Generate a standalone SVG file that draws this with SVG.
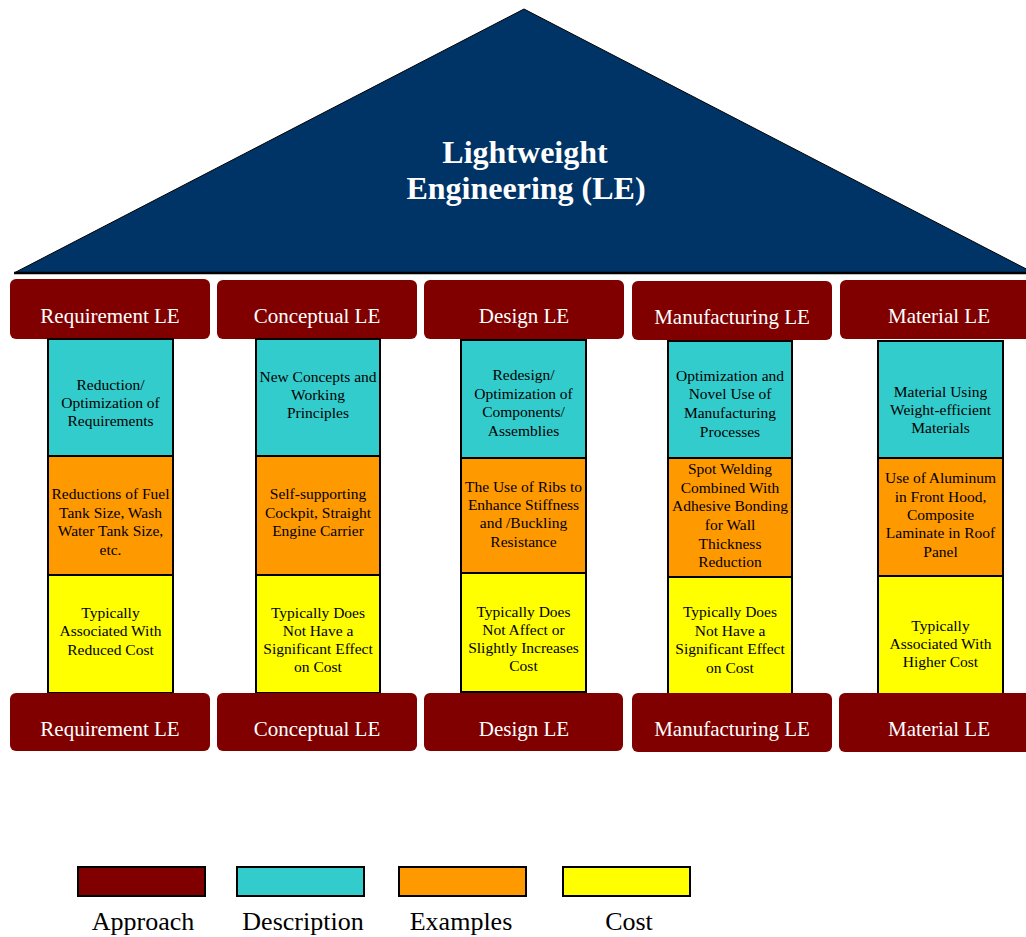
<svg xmlns="http://www.w3.org/2000/svg" width="1026" height="937" viewBox="0 0 1026 937">
<style>
.hdr{fill:#800000;}
.hdrt{font-family:"Liberation Serif","Times New Roman",serif;font-size:21px;fill:#ffffff;text-anchor:middle;}
.box{stroke:#000;stroke-width:2;}
.d{fill:#33CCCC;}
.e{fill:#FF9900;}
.c{fill:#FFFF00;}
.bt{font-family:"Liberation Serif","Times New Roman",serif;font-size:15.5px;fill:#000;text-anchor:middle;}
.lg{font-family:"Liberation Serif","Times New Roman",serif;font-size:26px;fill:#000;text-anchor:middle;}
.title{font-family:"Liberation Serif","Times New Roman",serif;font-size:32px;font-weight:bold;fill:#ffffff;text-anchor:middle;}
</style>
<rect width="1026" height="937" fill="#ffffff"/>
<g id="roof">
<polygon points="524,9 14,273 1034,273" fill="#003366" stroke="#000" stroke-width="1"/>
<line x1="14" y1="273" x2="1034" y2="273" stroke="#000" stroke-width="2.5"/>
<text class="title" x="525" y="163">Lightweight</text>
<text class="title" x="526" y="199">Engineering (LE)</text>
</g>
<g id="connectors"></g>
<g id="col-requirement">
<rect class="hdr" x="10" y="279" width="200" height="60" rx="6"/>
<text class="hdrt" x="110" y="323">Requirement LE</text>
<rect class="box d" x="48" y="339" width="125" height="117"/>
<rect class="box e" x="48" y="456" width="125" height="119"/>
<rect class="box c" x="48" y="575" width="125" height="118"/>
<text class="bt" x="110.5" y="389.5">Reduction/</text>
<text class="bt" x="110.5" y="407.5">Optimization of</text>
<text class="bt" x="110.5" y="425.5">Requirements</text>
<text class="bt" x="110.5" y="498.5">Reductions of Fuel</text>
<text class="bt" x="110.5" y="517.5">Tank Size, Wash</text>
<text class="bt" x="110.5" y="535.5">Water Tank Size,</text>
<text class="bt" x="110.5" y="554.5">etc.</text>
<text class="bt" x="110.5" y="617.5">Typically</text>
<text class="bt" x="110.5" y="635.5">Associated With</text>
<text class="bt" x="110.5" y="654.5">Reduced Cost</text>
<rect class="hdr" x="10" y="693" width="200" height="58" rx="6"/>
<text class="hdrt" x="110" y="736">Requirement LE</text>
</g>
<g id="col-conceptual">
<rect class="hdr" x="217" y="280" width="200" height="59" rx="6"/>
<text class="hdrt" x="317" y="323">Conceptual LE</text>
<rect class="box d" x="256" y="339" width="124" height="117"/>
<rect class="box e" x="256" y="456" width="124" height="119"/>
<rect class="box c" x="256" y="575" width="124" height="118"/>
<text class="bt" x="318" y="381.5">New Concepts and</text>
<text class="bt" x="318" y="399.5">Working</text>
<text class="bt" x="318" y="417.5">Principles</text>
<text class="bt" x="318" y="498.5">Self-supporting</text>
<text class="bt" x="318" y="517.5">Cockpit, Straight</text>
<text class="bt" x="318" y="535.5">Engine Carrier</text>
<text class="bt" x="318" y="617.5">Typically Does</text>
<text class="bt" x="318" y="635.5">Not Have a</text>
<text class="bt" x="318" y="653.5">Significant Effect</text>
<text class="bt" x="318" y="671.5">on Cost</text>
<rect class="hdr" x="217" y="693" width="200" height="58" rx="6"/>
<text class="hdrt" x="317" y="736">Conceptual LE</text>
</g>
<g id="col-design">
<rect class="hdr" x="424" y="280" width="200" height="59" rx="6"/>
<text class="hdrt" x="524" y="323">Design LE</text>
<rect class="box d" x="461" y="340" width="125" height="118"/>
<rect class="box e" x="461" y="458" width="125" height="115"/>
<rect class="box c" x="461" y="573" width="125" height="119"/>
<text class="bt" x="523.5" y="379.5">Redesign/</text>
<text class="bt" x="523.5" y="398.5">Optimization of</text>
<text class="bt" x="523.5" y="416.5">Components/</text>
<text class="bt" x="523.5" y="435.5">Assemblies</text>
<text class="bt" x="523.5" y="491.5">The Use of Ribs to</text>
<text class="bt" x="523.5" y="509.5">Enhance Stiffness</text>
<text class="bt" x="523.5" y="527.5">and /Buckling</text>
<text class="bt" x="523.5" y="546.5">Resistance</text>
<text class="bt" x="523.5" y="616.5">Typically Does</text>
<text class="bt" x="523.5" y="634.5">Not Affect or</text>
<text class="bt" x="523.5" y="652.5">Slightly Increases</text>
<text class="bt" x="523.5" y="670.5">Cost</text>
<rect class="hdr" x="424" y="693" width="199" height="58" rx="6"/>
<text class="hdrt" x="524" y="736">Design LE</text>
</g>
<g id="col-manufacturing">
<rect class="hdr" x="632" y="281" width="200" height="59" rx="6"/>
<text class="hdrt" x="732" y="324">Manufacturing LE</text>
<rect class="box d" x="668" y="341" width="124" height="117"/>
<rect class="box e" x="668" y="458" width="124" height="119"/>
<rect class="box c" x="668" y="577" width="124" height="117"/>
<text class="bt" x="730" y="380.5">Optimization and</text>
<text class="bt" x="730" y="398.5">Novel Use of</text>
<text class="bt" x="730" y="417.5">Manufacturing</text>
<text class="bt" x="730" y="436.5">Processes</text>
<text class="bt" x="730" y="473.5">Spot Welding</text>
<text class="bt" x="730" y="492.5">Combined With</text>
<text class="bt" x="730" y="510.5">Adhesive Bonding</text>
<text class="bt" x="730" y="529.5">for Wall</text>
<text class="bt" x="730" y="548.5">Thickness</text>
<text class="bt" x="730" y="566.5">Reduction</text>
<text class="bt" x="730" y="616.5">Typically Does</text>
<text class="bt" x="730" y="635.5">Not Have a</text>
<text class="bt" x="730" y="653.5">Significant Effect</text>
<text class="bt" x="730" y="672.5">on Cost</text>
<rect class="hdr" x="632" y="693" width="200" height="59" rx="6"/>
<text class="hdrt" x="732" y="736">Manufacturing LE</text>
</g>
<g id="col-material">
<rect class="hdr" x="840" y="280" width="200" height="59" rx="6"/>
<text class="hdrt" x="939" y="323">Material LE</text>
<rect class="box d" x="878" y="341" width="125" height="117"/>
<rect class="box e" x="878" y="458" width="125" height="118"/>
<rect class="box c" x="878" y="576" width="125" height="118"/>
<text class="bt" x="940.5" y="396.5">Material Using</text>
<text class="bt" x="940.5" y="414.5">Weight-efficient</text>
<text class="bt" x="940.5" y="432.5">Materials</text>
<text class="bt" x="940.5" y="482.5">Use of Aluminum</text>
<text class="bt" x="940.5" y="501.5">in Front Hood,</text>
<text class="bt" x="940.5" y="519.5">Composite</text>
<text class="bt" x="940.5" y="537.5">Laminate in Roof</text>
<text class="bt" x="940.5" y="556.5">Panel</text>
<text class="bt" x="940.5" y="630.5">Typically</text>
<text class="bt" x="940.5" y="648.5">Associated With</text>
<text class="bt" x="940.5" y="666.5">Higher Cost</text>
<rect class="hdr" x="839" y="693" width="200" height="59" rx="6"/>
<text class="hdrt" x="939" y="736">Material LE</text>
</g>
<g id="legend">
<rect class="box" x="78" y="867" width="127" height="29" fill="#800000"/>
<rect class="box d" x="237" y="867" width="127" height="29"/>
<rect class="box e" x="399" y="867" width="127" height="29"/>
<rect class="box c" x="563" y="867" width="127" height="29"/>
<text class="lg" x="143" y="930">Approach</text>
<text class="lg" x="303" y="930">Description</text>
<text class="lg" x="461" y="930">Examples</text>
<text class="lg" x="629" y="930">Cost</text>
</g>
</svg>
